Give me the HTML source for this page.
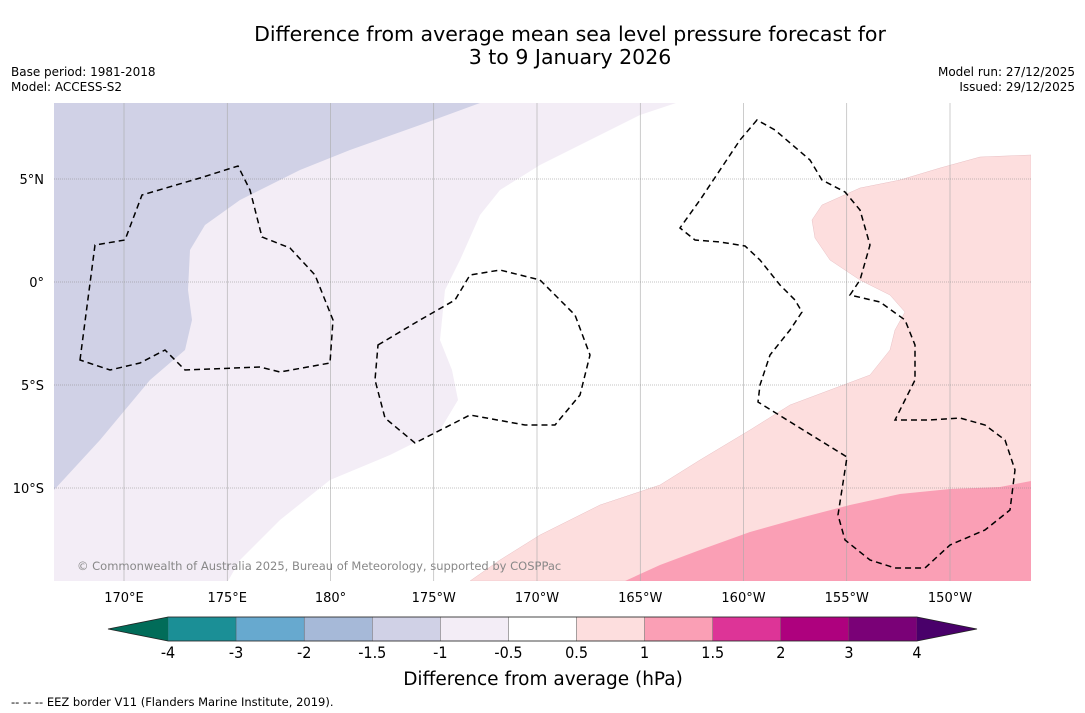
<!DOCTYPE html>
<html><head><meta charset="utf-8">
<style>
body{margin:0;background:#fff;width:1085px;height:713px;overflow:hidden}
svg{display:block}
.c{font-family:"DejaVu Sans","Liberation Sans",sans-serif;font-stretch:condensed}
.t{font-family:"DejaVu Sans","Liberation Sans",sans-serif}
</style></head><body>
<svg id="chart" width="1085" height="713" viewBox="0 0 1085 713">
<text class="t" x="570" y="41" font-size="20.5" text-anchor="middle">Difference from average mean sea level pressure forecast for</text>
<text class="t" x="570" y="64" font-size="20.5" text-anchor="middle">3 to 9 January 2026</text>
<text class="t" x="11" y="76" font-size="12">Base period: 1981-2018</text>
<text class="t" x="11" y="91" font-size="12">Model: ACCESS-S2</text>
<text class="t" x="1075" y="76" font-size="12" text-anchor="end">Model run: 27/12/2025</text>
<text class="t" x="1075" y="91" font-size="12" text-anchor="end">Issued: 29/12/2025</text>

<defs><clipPath id="mc"><rect x="54" y="103" width="977" height="478"/></clipPath></defs>
<g clip-path="url(#mc)">
<rect x="54" y="103" width="977" height="478" fill="#ffffff"/>
<path fill="#f3edf6" d="M54,103 L676,103 L640,115 L600,135 L540,165 L500,190 L480,215 L460,260 L445,290 L440,340 L452,370 L458,400 L440,430 L390,455 L330,480 L280,520 L240,560 L228,581 L54,581Z"/>
<path fill="#d0d1e6" d="M54,103 L480,103 L420,125 L350,150 L300,170 L240,200 L205,225 L190,250 L188,290 L192,320 L185,350 L150,380 L100,440 L54,490Z"/>
<path fill="#fddede" stroke="#e8c0c4" stroke-width="0.5" d="M1031,155 L980,157 L940,168 L900,180 L860,188 L822,205 L812,220 L815,238 L830,260 L860,280 L890,295 L905,312 L895,330 L890,350 L870,375 L830,390 L790,405 L750,430 L700,460 L660,485 L600,505 L540,535 L500,560 L470,581 L1031,581Z"/>
<path fill="#fa9fb5" d="M625,581 L660,565 L700,550 L750,532 L800,518 L850,505 L900,494 L950,489 L1000,487 L1031,481 L1031,581Z"/>
<g id="grid" stroke="#888" stroke-width="0.6" stroke-dasharray="1,1"></g>
<g fill="none" stroke="#000" stroke-width="1.5" stroke-dasharray="6,4">
<path d="M80,360 L95,245 L125,240 L142,195 L200,178 L238,166 L250,190 L262,237 L290,248 L315,275 L325,300 L333,320 L330,363 L280,372 L260,367 L185,370 L165,350 L140,363 L110,370 Z"/>
<path d="M378,345 L420,320 L455,300 L470,275 L500,270 L540,280 L575,315 L590,355 L580,395 L555,425 L525,425 L470,415 L415,443 L385,418 L375,380 Z"/>
<path d="M757,120 L740,140 L700,200 L680,228 L695,240 L720,242 L745,246 L760,260 L780,285 L795,300 L802,312 L790,330 L770,355 L760,385 L758,402 L800,428 L847,457 L838,515 L845,540 L870,560 L895,568 L925,568 L950,545 L985,530 L1010,510 L1015,470 L1005,440 L985,425 L960,418 L930,420 L895,420 L905,400 L915,380 L915,345 L905,320 L880,302 L850,295 L860,280 L870,245 L860,210 L845,192 L822,180 L810,160 L775,130 Z"/>
</g>
<text class="t" x="77" y="570" font-size="11.5" fill="#888">© Commonwealth of Australia 2025, Bureau of Meteorology, supported by COSPPac</text>
</g>
<g id="axes"></g>
<g id="cbar"></g>
<text class="t" x="543" y="685" font-size="18.5" text-anchor="middle">Difference from average (hPa)</text>
<text class="t" x="11" y="706" font-size="11.5">--  --  -- EEZ border V11 (Flanders Marine Institute, 2019).</text>
</svg>
<script>
const lonTicks=[170,175,180,185,190,195,200,205,210];
const lonLabels=["170°E","175°E","180°","175°W","170°W","165°W","160°W","155°W","150°W"];
const latTicks=[5,0,-5,-10];
const latLabels=["5°N","0°","5°S","10°S"];
const levels=["-4","-3","-2","-1.5","-1","-0.5","0.5","1","1.5","2","3","4"];
const colors=["#1b8f96","#67a9cf","#a6b9d8","#d0d1e6","#f3edf6","#ffffff","#fddede","#fa9fb5","#dd3497","#ae017e","#7a0177"];
const NS="http://www.w3.org/2000/svg";
const xLon=l=>124+(l-170)*20.65;
const yLat=l=>282-l*20.6;
const grid=document.getElementById('grid'),axes=document.getElementById('axes'),cb=document.getElementById('cbar');
function mk(tag,a,p){const e=document.createElementNS(NS,tag);for(const k in a)e.setAttribute(k,a[k]);p.appendChild(e);return e;}
lonTicks.forEach((l,i)=>{
 const g=mk('line',{x1:xLon(l),x2:xLon(l),y1:103,y2:581,'stroke-dasharray':'none',stroke:'#aaa'},grid);
 
 
 const t=mk('text',{x:xLon(l),y:602,'font-size':13,'text-anchor':'middle',class:'t'},axes);t.textContent=lonLabels[i];
 
 
});
latTicks.forEach((l,i)=>{
 const g=mk('line',{x1:54,x2:1031,y1:yLat(l),y2:yLat(l)},grid);
 
 
 const t=mk('text',{x:44,y:yLat(l)+5,'font-size':13,'text-anchor':'end',class:'t'},axes);t.textContent=latLabels[i];
 
 
});
const x0=168,x1=917,w=(x1-x0)/colors.length,y0=617,h=24;
colors.forEach((c,i)=>{
 const r=mk('rect',{x:x0+i*w,y:y0,width:w,height:h,fill:c,stroke:'#555','stroke-width':0.4},cb);
 
 
});
const el=mk('polygon',{points:`${x0},${y0} 108,${y0+h/2} ${x0},${y0+h}`,fill:'#016c59'},cb);


const er=mk('polygon',{points:`${x1},${y0} 977,${y0+h/2} ${x1},${y0+h}`,fill:'#49006a'},cb);


const ol=mk('polygon',{points:`108,${y0+h/2} ${x0},${y0} ${x1},${y0} 977,${y0+h/2} ${x1},${y0+h} ${x0},${y0+h}`,fill:'none',stroke:'#222','stroke-width':0.8},cb);


levels.forEach((v,i)=>{
 const t=mk('text',{x:x0+i*w,y:658,'font-size':16,'text-anchor':'middle',class:'c'},cb);t.textContent=v;
 
 
});
</script>
</body></html>
